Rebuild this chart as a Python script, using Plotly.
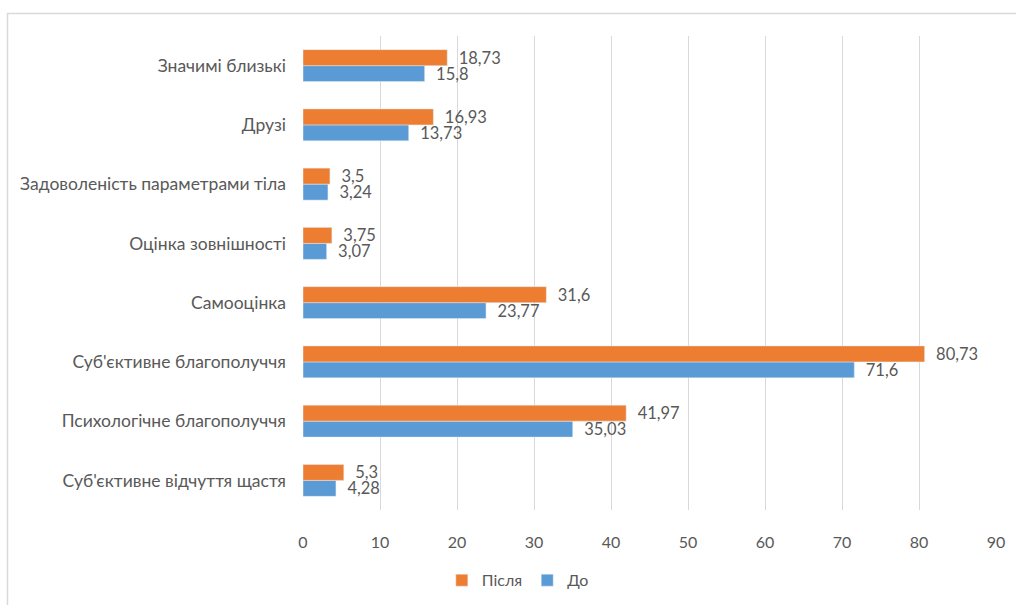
import plotly.graph_objects as go

categories = [
    "Суб'єктивне відчуття щастя",
    "Психологічне благополуччя",
    "Суб'єктивне благополуччя",
    "Самооцінка",
    "Оцінка зовнішності",
    "Задоволеність параметрами тіла",
    "Друзі",
    "Значимі близькі",
]
do_values = [4.28, 35.03, 71.6, 23.77, 3.07, 3.24, 13.73, 15.8]
pislia_values = [5.3, 41.97, 80.73, 31.6, 3.75, 3.5, 16.93, 18.73]
do_labels = ["4,28", "35,03", "71,6", "23,77", "3,07", "3,24", "13,73", "15,8"]
pislia_labels = ["5,3", "41,97", "80,73", "31,6", "3,75", "3,5", "16,93", "18,73"]
x_ticks = [0, 10, 20, 30, 40, 50, 60, 70, 80, 90]

FONT = "Lato"
TXT = "#595959"

fig = go.Figure()
fig.add_trace(go.Bar(
    y=categories, x=do_values, name="До", orientation="h",
    marker=dict(color="#5B9BD5"),
    text=["  " + t for t in do_labels], textposition="outside", cliponaxis=False,
    constraintext="none",
    textfont=dict(family=FONT, size=16.5, color=TXT),
))
fig.add_trace(go.Bar(
    y=categories, x=pislia_values, name="Після", orientation="h",
    marker=dict(color="#ED7D31"),
    text=["  " + t for t in pislia_labels], textposition="outside", cliponaxis=False,
    constraintext="none",
    textfont=dict(family=FONT, size=16.5, color=TXT),
))

fig.update_layout(
    width=1016, height=605,
    margin=dict(l=303, r=20, t=36, b=95, autoexpand=False),
    paper_bgcolor="white", plot_bgcolor="white",
    barmode="group", bargap=0.46, bargroupgap=0,
    font=dict(family=FONT, size=16, color=TXT),
    showlegend=True,
    legend=dict(orientation="h", x=0.31, xanchor="center", yref="container", y=0.069,
                yanchor="top", traceorder="reversed",
                font=dict(family=FONT, size=16, color=TXT), itemwidth=30),
    xaxis=dict(range=[0, 90], tickvals=x_ticks, showgrid=True, gridcolor="#D9D9D9",
               gridwidth=1.3, zeroline=False, showline=False, ticks="", automargin=False,
               ticklabelstandoff=21, tickfont=dict(family=FONT, size=16, color=TXT)),
    yaxis=dict(showgrid=False, zeroline=False, showline=False, ticks="", automargin=False,
               ticklabelstandoff=16, tickfont=dict(family=FONT, size=17.5, color=TXT)),
)

fig.add_shape(type="rect", xref="paper", yref="paper",
              x0=-(303 - 7.5) / 693, x1=1.2,
              y0=-0.3, y1=1 + (36 - 13.5) / 474,
              line=dict(color="#D9D9D9", width=1.5), fillcolor="rgba(0,0,0,0)", layer="below")

fig.write_html("out.html", config={"displayModeBar": False},
               post_script="document.body.style.margin='0';document.body.style.overflow='hidden';")
